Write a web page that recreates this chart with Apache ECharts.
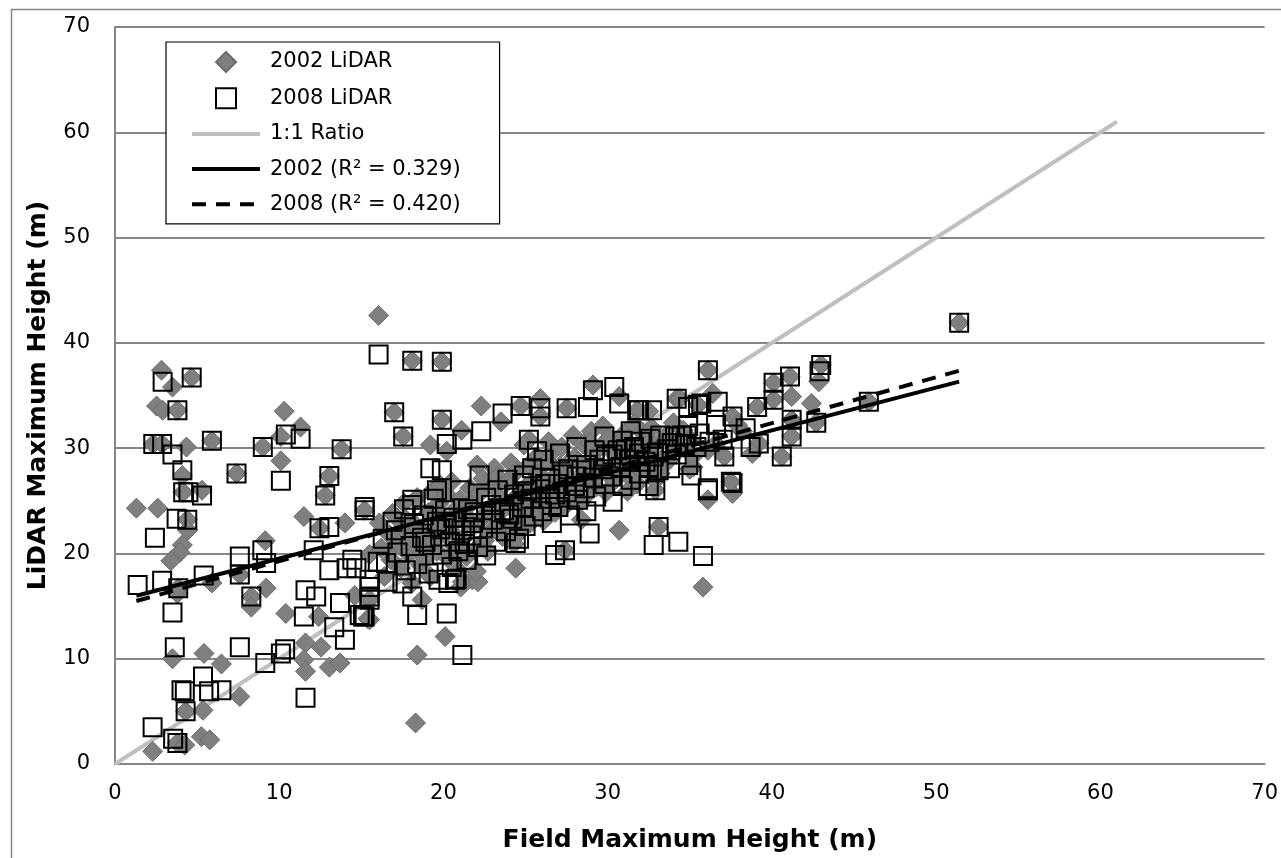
<!DOCTYPE html>
<html lang="en">
<head>
  <meta charset="UTF-8">
  <title>LiDAR vs field height</title>
  <style>
    html, body { margin: 0; padding: 0; background: #fff; }
    #main { width: 1281px; height: 858px; }
  </style>
</head>
<body>
  <div id="main"></div>
  <script src="https://cdn.jsdelivr.net/npm/echarts@6/dist/echarts.min.js"></script>
  <script type="text/javascript">
    // axis ticks
    const xTicks = [0, 10, 20, 30, 40, 50, 60, 70];
    const yTicks = [0, 10, 20, 30, 40, 50, 60, 70];

    // 2002 LiDAR points [field height, lidar height]
    const lidar2002 = [
      [1.3,24.3],[2.6,24.3],[2.83,37.4],[3.5,35.8],[4.67,36.7],[2.53,34.0],[2.9,33.6],[3.8,33.6],[2.33,30.4],[2.87,30.4],
      [4.35,30.1],[5.9,30.7],[4.1,27.4],[7.4,27.6],[9.0,30.1],[10.3,33.5],[10.1,31.1],[11.3,32.0],[10.1,28.8],[13.8,29.9],
      [13.05,27.35],[12.8,25.5],[17.0,33.4],[4.15,25.8],[5.3,26.0],[4.4,23.2],[4.43,22.2],[4.1,20.8],[3.95,20.1],[3.4,19.3],
      [3.85,16.7],[3.8,16.2],[5.9,17.2],[7.6,18.0],[8.3,15.9],[8.3,14.9],[9.15,21.2],[9.2,16.7],[10.4,14.3],[11.5,23.5],
      [12.45,22.4],[14.0,22.9],[15.2,24.1],[14.6,16.0],[15.5,15.6],[16.9,20.6],[15.5,19.9],[3.5,10.0],[5.42,10.5],[6.48,9.5],
      [7.6,6.4],[5.36,5.1],[4.3,5.0],[3.8,2.0],[4.25,1.8],[2.29,1.2],[5.26,2.6],[5.77,2.3],[11.6,11.5],[12.55,11.1],
      [11.5,9.9],[11.6,8.8],[13.05,9.2],[13.7,9.6],[12.4,14.0],[18.4,10.35],[18.3,3.9],[20.1,12.1],[15.4,13.8],[16.05,42.6],
      [18.1,38.3],[19.9,38.2],[17.55,31.1],[19.2,30.3],[19.9,32.7],[19.3,25.9],[21.1,31.7],[22.3,34.0],[23.5,32.5],[24.7,34.0],
      [25.9,34.7],[25.9,33.0],[27.5,33.8],[29.1,36.0],[30.7,34.9],[25.2,30.8],[22.05,28.4],[34.2,34.7],[32.5,33.5],[20.2,29.7],
      [24.4,18.6],[27.4,20.3],[33.1,22.5],[30.7,22.2],[28.4,23.2],[21.75,17.5],[21.05,16.8],[18.7,15.6],[15.5,13.7],[35.8,16.8],
      [36.1,25.1],[37.6,25.7],[36.1,37.4],[34.4,34.7],[36.4,35.2],[40.1,36.2],[41.1,36.8],[41.2,34.9],[43.0,37.9],[42.85,36.3],
      [42.4,34.25],[40.1,34.6],[39.1,33.9],[42.7,32.4],[41.2,32.7],[41.2,31.1],[45.9,34.4],[39.2,30.45],[40.6,29.2],[37.1,29.2],
      [37.5,26.8],[35.0,28.0],[36.1,29.8],[35.2,28.2],[34.8,31.2],[37.6,33.0],[31.8,33.6],[35.5,34.1],[32.9,26.0],[51.4,41.9],
      [21.15,17.3],[22.1,17.3],[16.9,23.8],[38.2,31.6],[36.6,30.4],[38.8,29.5],[37.9,32.2],
      [16.2,20.5],[16.4,17.8],[16.1,22.9],[16.8,19.4],[16.7,21.8],[17.0,23.6],[17.4,18.6],[17.3,20.9],[17.6,24.8],[17.5,22.4],
      [17.9,19.9],[18.0,21.6],[17.8,23.1],[18.1,17.2],[18.5,20.4],[18.3,22.7],[18.6,18.9],[18.4,25.3],[19.0,21.3],[19.1,23.9],
      [18.9,19.6],[19.2,17.8],[19.6,20.2],[19.5,22.4],[19.7,24.7],[19.8,26.5],[20.1,21.8],[20.3,19.5],[20.0,23.2],[20.2,25.6],
      [20.7,20.6],[20.6,22.9],[20.8,24.3],[20.9,18.4],[20.5,26.8],[21.2,21.4],[21.3,23.7],[21.0,25.1],[21.4,19.7],[21.8,22.6],
      [21.7,24.8],[21.9,20.3],[21.6,26.2],[22.0,18.3],[22.3,23.3],[22.5,21.2],[22.2,25.7],[22.4,27.1],[22.9,24.1],[22.8,22.0],
      [23.0,26.4],[22.7,20.2],[23.1,28.1],[23.4,23.0],[23.5,25.2],[23.3,27.3],[23.6,21.6],[24.0,24.6],[24.2,22.5],[23.9,26.8],
      [24.1,28.6],[24.3,20.9],[24.5,25.5],[24.6,23.6],[24.4,27.7],[24.7,22.1],[25.1,24.2],[25.0,26.3],[25.2,28.4],[25.3,22.9],
      [24.9,30.3],[25.6,25.9],[25.8,27.6],[25.5,23.8],[25.7,29.2],[26.2,26.7],[26.0,24.7],[26.3,28.8],[26.1,23.1],[26.4,30.6],
      [26.7,25.3],[26.9,27.5],[26.6,29.6],[26.8,23.9],[27.3,26.2],[27.1,28.3],[27.4,24.5],[27.2,30.1],[27.5,27.1],[27.8,27.0],
      [28.0,29.1],[27.7,25.3],[27.9,31.2],[28.4,26.6],[28.2,28.7],[28.5,30.4],[28.3,24.8],[28.6,27.8],[28.9,27.5],[29.1,29.6],
      [28.8,25.7],[29.0,31.6],[29.5,28.2],[29.3,26.3],[29.6,30.2],[29.4,27.4],[29.7,32.1],[30.0,27.9],[30.2,29.8],[29.9,25.8],
      [30.1,31.0],[30.6,28.6],[30.4,26.9],[30.7,30.5],[30.5,29.3],[31.1,29.1],[31.3,27.3],[31.0,31.4],[31.2,25.9],[31.7,28.4],
      [31.5,30.2],[31.8,26.6],[31.6,32.3],[32.2,29.7],[32.4,27.8],[32.1,31.5],[32.8,30.3],[32.6,28.5],[32.9,26.9],[32.7,31.9],
      [33.3,29.0],[33.5,31.1],[33.2,27.6],[33.9,30.6],[33.7,28.8],[34.0,32.4],[34.4,29.9],[34.6,31.7],[35.0,30.8],[35.2,29.2],
      [19.4,21.1],[20.4,22.2],[21.5,22.9],[22.6,23.8],[23.7,24.3],[24.8,25.0],[25.4,26.8],[26.5,26.0],[27.6,28.6],[28.1,26.1],
      [29.2,28.8],[30.3,28.0],[31.4,28.7],[32.3,30.6],[33.0,28.3],[18.7,22.0],[19.9,23.6],[21.1,20.4],[23.2,22.3],[25.8,25.1],
      [27.0,25.7],[28.9,30.5],[30.8,27.6],[32.0,29.0],[34.1,30.2]
    ];

    // 2008 LiDAR points [field height, lidar height]
    const lidar2008 = [
      [1.38,17.0],[2.9,36.3],[4.67,36.7],[3.8,33.6],[2.33,30.4],[2.87,30.4],[3.5,29.4],[5.9,30.7],[4.1,27.9],[7.4,27.6],
      [9.0,30.1],[10.4,31.3],[11.3,30.9],[10.1,26.9],[13.8,29.9],[13.05,27.35],[12.8,25.5],[16.05,38.9],[17.0,33.4],[4.15,25.8],
      [4.47,25.8],[5.3,25.5],[3.75,23.3],[4.4,23.2],[2.43,21.5],[2.87,17.4],[3.85,16.7],[3.5,14.4],[5.4,17.9],[7.6,19.7],
      [7.6,18.0],[8.3,15.9],[8.97,20.3],[9.2,19.1],[12.45,22.4],[13.05,22.5],[15.2,24.1],[12.1,20.3],[13.05,18.4],[14.1,18.6],
      [14.45,19.4],[11.6,16.5],[11.5,14.0],[12.25,15.9],[13.7,15.3],[15.5,17.5],[15.5,15.6],[15.2,14.0],[16.5,19.1],[3.64,11.1],
      [7.6,11.1],[5.36,8.3],[4.05,7.0],[4.25,6.9],[5.73,6.9],[6.48,7.0],[4.3,5.0],[2.29,3.5],[3.54,2.4],[3.8,2.0],
      [9.15,9.6],[10.1,10.5],[10.36,10.9],[11.6,6.3],[14.0,11.8],[13.35,13.0],[18.4,14.15],[14.9,14.15],[15.5,15.9],[21.15,10.35],
      [20.2,14.3],[26.8,19.85],[27.4,20.3],[33.1,22.5],[32.8,20.8],[34.3,21.1],[35.8,19.75],[36.1,26.0],[37.6,26.7],[28.9,21.9],
      [24.4,21.0],[20.7,17.5],[18.1,15.9],[15.1,14.0],[15.5,16.8],[14.7,18.6],[17.5,17.15],[19.7,17.5],[20.3,17.2],[20.8,17.6],
      [15.2,24.4],[18.1,38.3],[19.9,38.2],[17.55,31.1],[19.2,28.1],[19.9,27.9],[19.9,32.7],[20.2,30.4],[18.1,25.1],[21.15,30.8],
      [22.3,31.6],[23.6,33.3],[24.7,34.0],[25.9,33.8],[25.9,33.0],[27.5,33.8],[30.4,35.8],[29.1,35.5],[30.7,34.25],[28.8,33.9],
      [25.2,30.8],[25.7,29.7],[34.2,34.7],[34.9,33.9],[31.9,33.6],[36.1,37.4],[35.7,34.25],[40.1,36.2],[41.1,36.8],[43.0,37.9],
      [42.9,37.3],[40.1,34.6],[39.1,33.9],[42.7,32.4],[41.2,32.7],[41.2,31.1],[45.9,34.4],[39.2,30.45],[40.6,29.2],[37.1,29.2],
      [37.5,26.8],[36.1,26.2],[34.9,28.4],[34.8,31.2],[37.6,33.0],[31.8,33.6],[32.7,33.6],[35.5,34.1],[36.7,34.4],[35.1,27.4],
      [32.9,26.0],[51.4,41.9],[19.6,26.0],[18.1,24.6],[38.4,31.9],[37.0,30.8],[38.7,30.1],
      [16.0,19.2],[16.3,21.4],[16.6,17.3],[16.9,23.0],[17.2,20.1],[17.1,22.2],[17.7,18.4],[17.6,24.2],[18.0,20.7],[18.2,22.8],
      [18.4,19.0],[18.7,21.5],[18.8,23.6],[19.1,18.1],[19.3,20.8],[19.4,25.2],[19.8,22.3],[19.9,19.9],[20.1,24.1],[20.4,21.1],
      [20.5,18.7],[20.6,23.4],[20.9,20.2],[21.1,22.2],[21.0,26.0],[21.5,24.2],[21.4,19.4],[21.7,21.7],[21.9,23.9],[22.1,20.6],
      [22.2,27.4],[22.4,22.4],[22.6,25.3],[22.6,19.8],[23.0,23.2],[23.2,21.1],[23.3,26.0],[23.7,24.1],[23.8,22.1],[23.9,27.0],
      [24.2,23.3],[24.3,25.6],[24.6,21.4],[24.8,24.4],[24.8,26.7],[25.0,22.6],[25.3,25.2],[25.4,28.1],[25.5,23.5],[25.9,26.1],
      [26.0,24.0],[26.1,28.9],[26.5,25.2],[26.5,27.1],[26.6,22.9],[27.0,26.6],[27.1,29.5],[27.0,24.4],[27.5,25.8],[27.6,28.0],
      [27.7,23.6],[28.1,27.3],[28.2,25.1],[28.1,30.1],[28.6,26.2],[28.7,28.4],[28.7,24.0],[29.1,27.2],[29.2,29.8],[29.3,25.4],
      [29.7,28.0],[29.8,26.6],[29.8,31.1],[30.2,27.3],[30.3,29.4],[30.3,24.9],[30.8,28.2],[30.9,30.7],[30.9,26.4],[31.3,28.9],
      [31.4,27.0],[31.4,31.6],[31.9,29.5],[31.9,27.6],[32.0,30.6],[32.5,28.2],[32.6,30.9],[32.5,26.4],[33.0,29.6],[33.1,27.9],
      [33.2,31.2],[33.6,29.9],[33.8,28.1],[34.1,31.1],[34.2,29.4],[34.7,30.3],[34.9,32.1],[35.4,30.1],[35.6,31.4],[36.2,30.6],
      [36.6,32.2],
      [19.6,23.0],[20.7,21.7],[21.8,22.9],[22.9,24.6],[24.0,23.7],[25.1,25.9],[26.2,26.6],[27.3,27.5],[28.4,27.9],[29.5,28.9],
      [30.6,29.8],[31.6,30.1],[32.8,29.2],[33.9,30.5],[18.9,21.1],[20.2,22.7],[21.3,20.9],[23.5,23.9],[24.9,27.4],[26.8,25.6],
      [28.0,26.4],[29.9,29.2],[31.1,29.9],[32.3,28.7],[34.5,31.2]
    ];

    // 1:1 reference line extent and trend-line coefficients (slope, intercept)
    const ratioRange = [0, 61];
    const trend2002 = { slope: 0.406, intercept: 15.45 };
    const trend2008 = { slope: 0.4366, intercept: 14.91 };

    const allX = lidar2002.concat(lidar2008).map(p => p[0]);
    const xMin = Math.min.apply(null, allX);
    const xMax = Math.max.apply(null, allX);
    const trendLine = (t) => [xMin, xMax].map(x => [x, t.slope * x + t.intercept]);
    const ratioLine = ratioRange.map(v => [v, v]);

    const font = 'DejaVu Sans';
    const gridGray = '#868686';
    const dash = [14, 10];
    const noMarker = { color: 'rgba(0,0,0,0)', borderColor: 'rgba(0,0,0,0)', borderWidth: 0 };

    var myChart = echarts.init(document.getElementById('main'), null, { renderer: 'canvas' });

    var option = {
      backgroundColor: '#ffffff',
      animation: false,
      graphic: [{
        type: 'rect',
        left: 9, top: 7,
        shape: { width: 1400, height: 1000 },
        style: { fill: 'none', stroke: gridGray, lineWidth: 1.5 },
        z: -1
      }],
      grid: { left: 115, top: 27, right: 13, bottom: 94 },
      legend: {
        orient: 'vertical',
        left: 166,
        top: 42,
        backgroundColor: '#ffffff',
        borderColor: '#000000',
        borderWidth: 1.2,
        borderRadius: 0,
        padding: [9, 39, 9, 24],
        itemWidth: 68,
        itemHeight: 20,
        itemGap: 14.2,
        symbolKeepAspect: true,
        textStyle: { fontFamily: font, fontSize: 21, color: '#000', lineHeight: 20, padding: [0, 0, 0, 5] },
        data: [
          { name: '2002 LiDAR', icon: 'path://M0,-1L1,0L0,1L-1,0Z' },
          { name: '2008 LiDAR', icon: 'path://M0,0L1,0L1,1L0,1Z', itemStyle: { borderWidth: 2 } },
          { name: '1:1 Ratio', itemStyle: noMarker, lineStyle: { width: 4, color: '#bfbfbf' } },
          { name: '2002 (R² = 0.329)', itemStyle: noMarker, lineStyle: { width: 4, color: '#000' } },
          { name: '2008 (R² = 0.420)', itemStyle: noMarker, lineStyle: { width: 4, color: '#000', type: dash } }
        ]
      },
      xAxis: {
        type: 'value',
        min: xTicks[0],
        max: xTicks[xTicks.length - 1],
        interval: xTicks[1] - xTicks[0],
        name: 'Field Maximum Height (m)',
        nameLocation: 'middle',
        nameGap: 64,
        nameTextStyle: { fontFamily: font, fontSize: 25, fontWeight: 'bold', color: '#000' },
        axisLine: { show: true, onZero: false, lineStyle: { color: gridGray, width: 2 } },
        axisTick: { show: false },
        axisLabel: { fontFamily: font, fontSize: 21, color: '#000', margin: 19 },
        splitLine: { show: false }
      },
      yAxis: {
        type: 'value',
        min: yTicks[0],
        max: yTicks[yTicks.length - 1],
        interval: yTicks[1] - yTicks[0],
        name: 'LiDAR Maximum Height (m)',
        nameLocation: 'middle',
        nameGap: 64,
        nameTextStyle: { fontFamily: font, fontSize: 25, fontWeight: 'bold', color: '#000' },
        axisLine: { show: true, onZero: false, lineStyle: { color: gridGray, width: 2 } },
        axisTick: { show: false },
        axisLabel: { fontFamily: font, fontSize: 21, color: '#000', margin: 25 },
        splitLine: { show: true, lineStyle: { color: gridGray, width: 2 } }
      },
      series: [
        {
          name: '1:1 Ratio',
          type: 'line',
          data: ratioLine,
          symbol: 'none',
          lineStyle: { color: '#bfbfbf', width: 4 },
          itemStyle: { color: '#bfbfbf' },
          z: 1
        },
        {
          name: '2002 LiDAR',
          type: 'scatter',
          data: lidar2002,
          symbol: 'diamond',
          symbolSize: 20,
          itemStyle: { color: '#7f7f7f', borderColor: '#6c6c6c', borderWidth: 1, opacity: 1 },
          z: 2
        },
        {
          name: '2008 LiDAR',
          type: 'scatter',
          data: lidar2008,
          symbol: 'rect',
          symbolSize: 18,
          itemStyle: { color: 'rgba(255,255,255,0)', borderColor: '#000000', borderWidth: 2, opacity: 1 },
          z: 3
        },
        {
          name: '2002 (R² = 0.329)',
          type: 'line',
          data: trendLine(trend2002),
          symbol: 'none',
          lineStyle: { color: '#000', width: 4 },
          itemStyle: { color: '#000' },
          z: 4
        },
        {
          name: '2008 (R² = 0.420)',
          type: 'line',
          data: trendLine(trend2008),
          symbol: 'none',
          lineStyle: { color: '#000', width: 4, type: dash },
          itemStyle: { color: '#000' },
          z: 4
        }
      ]
    };

    myChart.setOption(option);
  </script>
</body>
</html>
